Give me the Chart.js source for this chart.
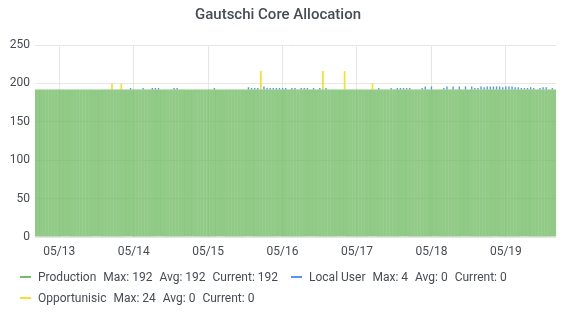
<!DOCTYPE html>
<html>
<head>
<meta charset="utf-8">
<script src="https://cdn.jsdelivr.net/npm/chart.js@4/dist/chart.umd.min.js"></script>
<style>
  html, body { margin: 0; padding: 0; background: #fff; }
  #wrap { position: relative; width: 581px; height: 315px; font-family: Roboto, "Noto Sans", sans-serif; }
  #c { position: absolute; left: 0; top: 0; }
  #legend { position: absolute; left: 20px; top: 270px; width: 550px; display: flex; flex-wrap: wrap; row-gap: 7px; font-size: 12px; color: #464c54; line-height: 14px; }
  .item { display: flex; align-items: center; margin-right: 13px; white-space: nowrap; }
  .dash { display: inline-block; width: 11px; height: 2px; margin-right: 7px; }
  .val { margin-left: 7px; }
</style>
</head>
<body>
<div id="wrap">
  <canvas id="c" width="581" height="315"></canvas>
  <div id="legend"></div>
</div>
<script>
// ---- data ----
const firstHour = -8;                 // hours relative to 05/13 00:00
const production = [
  192,192,192,192,192,192,192,192,
  192,192,192,192,192,192,192,192,192,192,192,192,192,192,192,192,192,192,192,192,192,192,192,192,
  192,192,192,192,192,192,192,192,192,192,192,192,192,192,192,192,192,192,192,192,192,192,192,192,
  192,192,192,192,192,192,192,192,192,192,192,192,192,192,192,192,192,192,192,192,192,192,192,192,
  192,192,192,192,192,192,192,192,192,192,192,192,192,192,192,192,192,192,192,192,192,192,192,192,
  192,192,192,192,192,192,192,192,192,192,192,192,192,192,192,192,192,192,192,192,192,192,192,192,
  192,192,192,192,192,192,192,192,192,192,192,192,192,192,192,192,192,192,192,192,192,192,192,192,
  192,192,192,192,192,192,192,192,192,192,192,192,192,192,192,192,192
];
const localUserHours = [23,27,30,31,32,37,38,50,61,62,63,64,66,67,68,69,70,71,72,73,75,76,78,79,80,82,84,86,
  103,107,109,110,111,112,113,117,118,120,124,125,127,129,131,133,134,135,136,137,138,139,140,141,142,143,144,
  145,146,147,148,149,150,151,152,153,155,156,157,159];
const localUserValues = [2,2,2,2,2,2,2,2,3,2,2,2,4,2,2,2,2,2,2,2,2,2,2,2,2,2,2,2,
  2,2,2,2,2,2,2,2,4,4,2,4,4,4,4,4,2,2,4,3,4,4,4,4,4,3,4,
  4,4,3,3,2,2,2,3,2,2,3,3,2];
const oppHours = [17,20,65,85,92,101];
const oppValues = [8,8,24,24,24,8];

const dayHours = [0,24,48,72,96,120,144];
const dayLabels = ['05/13','05/14','05/15','05/16','05/17','05/18','05/19'];

const seriesNames = ['Production','Local User','Opportunisic'];
const seriesColors = ['#73BF69','#5794F2','#FADE2A'];
const statMax = [192,4,24];
const statAvg = [192,0,0];
const statCurrent = [192,0,0];

// ---- chart ----
const textColor = '#464c54';
const gridColor = '#e6e6e6';
const tickFont = { family: 'Roboto', size: 12 };

const prodData = production.map((v, i) => ({ x: firstHour + i, y: v }));
const localData = localUserHours.map((h, i) => ({ x: h, y: localUserValues[i] }));
const oppData = oppHours.map((h, i) => ({ x: h, y: oppValues[i] }));

new Chart(document.getElementById('c'), {
  type: 'bar',
  data: {
    datasets: [
      { label: seriesNames[0], data: prodData, backgroundColor: 'rgba(115,188,102,0.78)',
        barPercentage: 1, categoryPercentage: 1, inflateAmount: 0.1, stack: 's' },
      { label: seriesNames[1], data: localData, backgroundColor: seriesColors[1],
        barPercentage: 0.45, categoryPercentage: 1, inflateAmount: 0, stack: 's' },
      { label: seriesNames[2], data: oppData, backgroundColor: seriesColors[2],
        barPercentage: 0.55, categoryPercentage: 1, inflateAmount: 0, stack: 's' }
    ]
  },
  options: {
    responsive: false,
    animation: false,
    layout: { padding: { left: 0, right: 25, top: 0, bottom: 58 } },
    plugins: {
      legend: { display: false },
      tooltip: { enabled: false },
      title: {
        display: true, text: 'Gautschi Core Allocation', color: textColor,
        font: { family: 'Roboto', size: 15, weight: '500' },
        padding: { top: 6, bottom: 21 }
      }
    },
    scales: {
      x: {
        type: 'linear', stacked: true, min: -7.83, max: 160.17, offset: false,
        afterBuildTicks: s => { s.ticks = dayHours.map(v => ({ value: v })); },
        afterFit: s => { s.height = 20; },
        ticks: {
          autoSkip: false, maxRotation: 0, padding: 8, color: textColor, font: tickFont,
          callback: v => { const k = dayHours.indexOf(v); return k >= 0 ? dayLabels[k] : ''; }
        },
        grid: { color: gridColor, drawTicks: false, offset: false },
        border: { display: false }
      },
      y: {
        stacked: true, min: 0, max: 250,
        afterFit: s => { s.width = 35; },
        ticks: { stepSize: 50, padding: 5, color: textColor, font: tickFont },
        grid: { color: gridColor, drawTicks: false },
        border: { display: false }
      }
    }
  }
});

// ---- legend ----
const legend = document.getElementById('legend');
seriesNames.forEach((name, i) => {
  const item = document.createElement('div');
  item.className = 'item';
  const dash = document.createElement('span');
  dash.className = 'dash';
  dash.style.background = seriesColors[i];
  item.appendChild(dash);
  const n = document.createElement('span');
  n.textContent = name;
  item.appendChild(n);
  [['Max', statMax[i]], ['Avg', statAvg[i]], ['Current', statCurrent[i]]].forEach(([k, v]) => {
    const s = document.createElement('span');
    s.className = 'val';
    s.textContent = k + ': ' + v;
    item.appendChild(s);
  });
  legend.appendChild(item);
});
</script>
</body>
</html>
